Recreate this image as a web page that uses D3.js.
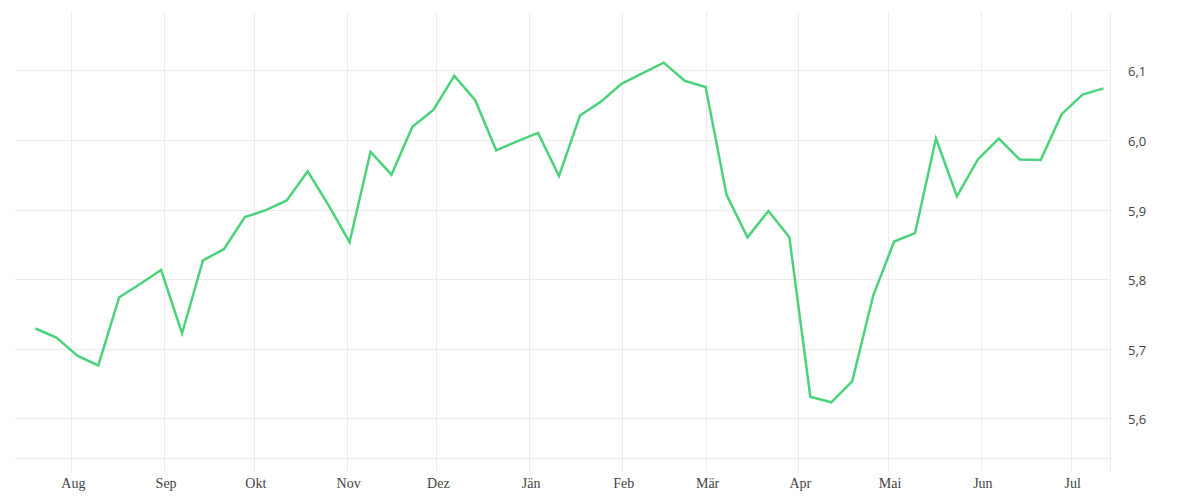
<!DOCTYPE html>
<html>
<head>
<meta charset="utf-8">
<script src="https://cdn.jsdelivr.net/npm/d3@7"></script>
<style>
  html, body { margin: 0; padding: 0; background: #fff; }
  svg { display: block; }
</style>
</head>
<body>
<svg id="chart" width="1200" height="500"></svg>
<script>
// ---- data ----
const startDate = "2024-07-20"; // weekly observations
const values = [
  5.729, 5.716, 5.690, 5.676, 5.774, 5.793, 5.813, 5.722, 5.827, 5.843,
  5.889, 5.899, 5.913, 5.955, 5.906, 5.853, 5.983, 5.950, 6.019, 6.043,
  6.092, 6.057, 5.985, 5.998, 6.010, 5.948, 6.035, 6.055, 6.081, 6.096,
  6.111, 6.085, 6.076, 5.921, 5.860, 5.898, 5.860, 5.631, 5.623, 5.653,
  5.776, 5.854, 5.866, 6.002, 5.919, 5.972, 6.002, 5.972, 5.971, 6.037,
  6.065, 6.074
];
const monthLabels = ["Aug", "Sep", "Okt", "Nov", "Dez", "Jän", "Feb", "Mär", "Apr", "Mai", "Jun", "Jul"];
const monthTicks = ["2024-08-01","2024-09-01","2024-10-01","2024-11-01","2024-12-01","2025-01-01",
                    "2025-02-01","2025-03-01","2025-04-01","2025-05-01","2025-06-01","2025-07-01"];
const yTicks = [5.6, 5.7, 5.8, 5.9, 6.0, 6.1];
const xDomain = ["2024-07-13", "2025-07-14"];
const yDomain = [5.5425, 6.1838];

// ---- build ----
const parse = d3.utcParse("%Y-%m-%d");
const t0 = parse(startDate);
const data = values.map((v, i) => ({ date: d3.utcDay.offset(t0, i * 7), value: v }));

const svg = d3.select("#chart");
const mLeft = 14.5, mRight = 1109.5, mTop = 12, mBottom = 458.3;

const x = d3.scaleUtc().domain(xDomain.map(parse)).range([mLeft, mRight]);
const y = d3.scaleLinear().domain(yDomain).range([mBottom, mTop]);

const gridColor = "#ececec";

// vertical gridlines (month ticks)
const vg = svg.append("g");
vg.selectAll("line.v").data(monthTicks.map(parse)).join("line")
  .attr("x1", d => Math.round(x(d)) + 0.5).attr("x2", d => Math.round(x(d)) + 0.5)
  .attr("y1", mTop).attr("y2", 472)
  .attr("stroke", gridColor).attr("stroke-width", 1);
vg.append("line")
  .attr("x1", 1110.5).attr("x2", 1110.5)
  .attr("y1", mTop).attr("y2", 472)
  .attr("stroke", gridColor).attr("stroke-width", 1);

// horizontal gridlines
const hg = svg.append("g");
hg.selectAll("line.h").data(yTicks.concat([yDomain[0]])).join("line")
  .attr("x1", 15).attr("x2", 1110)
  .attr("y1", d => Math.round(y(d)) + 0.5).attr("y2", d => Math.round(y(d)) + 0.5)
  .attr("stroke", gridColor).attr("stroke-width", 1);

// y axis labels (right)
const yAxis = d3.axisRight(y).tickValues(yTicks).tickSize(0).tickPadding(0)
  .tickFormat(d => d3.format(".1f")(d).replace(".", ","));
const ya = svg.append("g").attr("transform", `translate(1128,1.5)`).call(yAxis);
ya.select(".domain").remove();
ya.selectAll("text")
  .attr("font-family", "'Open Sans', 'Noto Sans', sans-serif")
  .attr("font-size", 13)
  .attr("fill", "#444");

// x axis labels
const xAxis = d3.axisBottom(x).tickValues(monthTicks.map(parse)).tickSize(0).tickPadding(0)
  .tickFormat((d, i) => monthLabels[i]);
const xa = svg.append("g").attr("transform", `translate(1.5,478.5)`).call(xAxis);
xa.select(".domain").remove();
xa.selectAll("text")
  .attr("font-family", "'Liberation Serif', 'DejaVu Serif', serif")
  .attr("font-size", 14)
  .attr("fill", "#444");

// line
const line = d3.line().x(d => x(d.date)).y(d => y(d.value));
svg.append("path").datum(data)
  .attr("d", line)
  .attr("fill", "none")
  .attr("stroke", "#4cd27b")
  .attr("stroke-width", 2.5)
  .attr("stroke-linejoin", "miter");
</script>
</body>
</html>
